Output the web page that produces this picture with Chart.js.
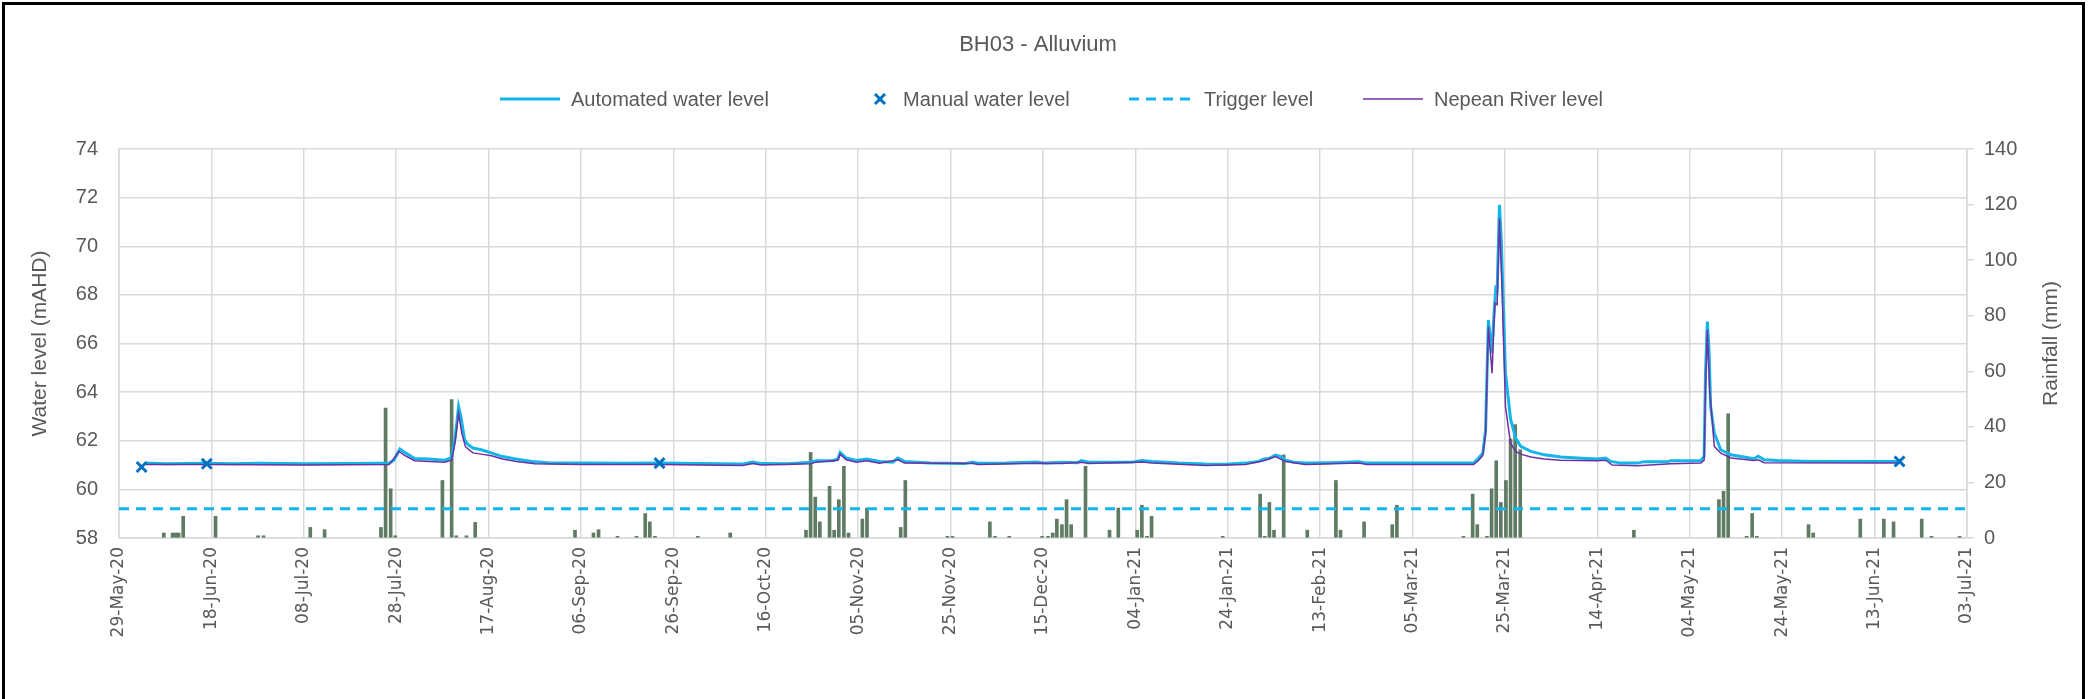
<!DOCTYPE html>
<html>
<head>
<meta charset="utf-8">
<title>BH03 - Alluvium</title>
<script src="https://cdn.jsdelivr.net/npm/chart.js@4.4.0/dist/chart.umd.min.js"></script>
<style>
  html, body { margin: 0; padding: 0; background: #fff; }
  #wrap { position: relative; width: 2089px; height: 699px; }
  #frame { position: absolute; left: 2px; top: 2px; width: 2083px; height: 697px; border: 3px solid #000; border-bottom: none; box-sizing: border-box; pointer-events: none; }
  canvas { position: absolute; left: 0; top: 0; }
</style>
</head>
<body>
<div id="wrap">
  <canvas id="myChart" width="2089" height="699"></canvas>
  <div id="frame"></div>
</div>
<script>
// x values are days since 29-May-20
const autoDays = [5.8, 10, 15, 18, 25, 30, 40, 50, 56, 58.5, 59.5, 60.8, 62, 64, 67, 70.5, 72, 72.8, 73.5, 74.0, 74.8, 75.5, 76.6, 78.4, 80.6, 82.8, 85.6, 89.3, 92.9, 100.8,
  110, 117, 125, 135, 137.2, 139, 145, 149.5, 151, 154.5, 155.6, 156.1, 157.4, 159.6, 161.8, 164.6, 167.5, 168.6, 170, 175.5, 183, 184.8, 186, 192, 198.6,
  200.5, 204.1, 207.5, 208.3, 209.9, 219.3, 221.4, 223.6, 229.4, 235.2, 239.5, 243.8, 246.7, 247.8, 248.9, 250.3, 251.4, 252.5, 254.3, 256.8, 262, 268.3, 270.1,
  279.9, 293.2, 294.3, 295.2, 295.8, 296.4, 297.1, 297.5, 298, 298.3, 298.8, 299.2, 300.1, 301.2, 302.3, 303.4, 305.6, 308.5, 312.1, 315.7, 320, 321.8, 322.9,
  325.1, 328.7, 330.1, 335.2, 335.9, 342.4, 343.1, 343.4, 343.8, 344.2, 344.5, 345.3, 346.7, 348.9, 351.7, 353.9, 354.8, 356.1, 359, 366.2, 373.4, 384.9];
const autoLevel = [61.08, 61.05, 61.06, 61.07, 61.05, 61.07, 61.05, 61.06, 61.07, 61.08, 61.2, 61.66, 61.5, 61.27, 61.25, 61.2, 61.3, 62.2, 63.41, 63.0, 62.04, 61.85, 61.7, 61.63, 61.5, 61.36, 61.26, 61.15, 61.1, 61.08,
  61.07, 61.08, 61.06, 61.04, 61.12, 61.06, 61.05, 61.12, 61.18, 61.18, 61.25, 61.52, 61.29, 61.19, 61.25, 61.15, 61.12, 61.29, 61.15, 61.08, 61.06, 61.12, 61.07, 61.08, 61.13,
  61.08, 61.12, 61.1, 61.18, 61.12, 61.12, 61.19, 61.15, 61.08, 61.04, 61.03, 61.08, 61.15, 61.25, 61.27, 61.41, 61.36, 61.2, 61.12, 61.08, 61.1, 61.14, 61.08,
  61.08, 61.08, 61.29, 61.49, 62.45, 66.97, 65.6, 66.84, 68.27, 68.2, 71.7, 70.26, 64.78, 62.9, 62.11, 61.77, 61.56, 61.42, 61.33, 61.29, 61.25, 61.29, 61.15,
  61.08, 61.08, 61.14, 61.14, 61.18, 61.18, 61.36, 64.78, 66.9, 65.6, 63.41, 62.32, 61.63, 61.42, 61.33, 61.26, 61.36, 61.22, 61.19, 61.15, 61.15, 61.15];

const riverDays = [5.8, 20, 40, 58.5, 60.6, 62, 64, 70.5, 72, 72.8, 73.5, 74.2, 75, 76.6, 78.4, 80.6, 83, 86, 90, 100, 117, 135, 137.2, 139, 149.5, 151, 155.6, 156.1, 157.4,
  159.6, 161.8, 164.6, 168.6, 170, 184.8, 186, 198.6, 204.1, 208.3, 209.9, 221.4, 223.6, 235.2, 243.8, 247.8, 250.3, 252.5, 256.8, 268.3, 270.1,
  293.2, 294.3, 295.2, 295.8, 296.4, 297.2, 297.8, 298.3, 298.8, 299.4, 300.1, 301.2, 302.3, 303.4, 305.6, 308.5, 312, 320, 321.8, 323.2, 328.7, 335.9,
  342.4, 343.1, 343.4, 343.8, 344.3, 345.3, 346.7, 348.9, 353.9, 354.8, 356.1, 384.9];
const riverLevel = [61.02, 61.02, 61.0, 61.02, 61.56, 61.38, 61.18, 61.12, 61.2, 62.0, 63.14, 62.3, 61.75, 61.5, 61.45, 61.38, 61.25, 61.15, 61.05, 61.02, 61.02, 60.98, 61.06, 61.0, 61.05, 61.12, 61.2, 61.45, 61.22,
  61.12, 61.18, 61.08, 61.22, 61.08, 61.06, 61.02, 61.07, 61.06, 61.12, 61.06, 61.13, 61.08, 60.98, 61.02, 61.18, 61.35, 61.15, 61.02, 61.08, 61.02,
  61.02, 61.2, 61.4, 62.3, 66.7, 64.78, 67.66, 67.6, 71.15, 68.0, 63.4, 61.9, 61.56, 61.45, 61.33, 61.25, 61.2, 61.18, 61.2, 61.0, 60.97, 61.05,
  61.08, 61.2, 64.1, 66.56, 64.1, 61.77, 61.49, 61.29, 61.19, 61.22, 61.1, 61.08];

const manualDays = [4.9, 19, 117, 385.4];
const manualLevel = [60.92, 61.05, 61.08, 61.15];

const triggerDays = [0, 400];
const triggerLevel = [59.2, 59.2];

const rainDays = [9.7, 11.6, 12.3, 12.9, 13.9, 20.9, 30.1, 31.3, 41.4, 44.5, 56.7, 57.7, 58.8, 59.8, 70.0, 72.0, 73.0, 75.2, 77.1, 98.7,
  102.7, 103.8, 107.9, 112.0, 113.9, 114.9, 116.0, 125.3, 132.3, 148.7, 149.7, 150.7, 151.7, 153.8, 154.8, 155.8, 156.9, 157.9, 160.9, 161.9,
  169.2, 170.2, 179.3, 180.4, 188.5, 189.6, 192.7, 199.8, 201.1, 202.1, 203.0, 204.1, 205.1, 206.1, 209.2, 214.4, 216.3, 220.4, 221.4, 222.5, 223.5,
  238.9, 247.0, 248.0, 249.0, 250.0, 252.1, 257.2, 263.4, 264.4, 269.5, 275.6, 276.6, 291.0, 293.0, 294.0, 296.1, 297.1, 298.1, 299.1, 300.2,
  301.2, 302.2, 303.3, 327.9, 346.3, 347.3, 348.3, 352.3, 353.5, 354.5, 365.7, 366.7, 376.9, 382.0, 384.1, 390.2, 392.3, 398.4];
const rainMm = [1.8, 1.8, 1.8, 1.8, 7.8, 7.8, 0.8, 0.8, 3.8, 3.0, 3.8, 46.8, 17.7, 0.8, 20.7, 49.8, 0.8, 0.8, 5.6, 2.8,
  1.8, 3.0, 0.6, 0.6, 8.8, 5.8, 0.6, 0.6, 1.8, 2.8, 30.8, 14.7, 5.8, 18.6, 2.8, 13.8, 25.8, 1.8, 6.8, 10.8,
  3.8, 20.7, 0.6, 0.6, 5.8, 0.6, 0.6, 0.6, 0.6, 1.8, 6.8, 4.8, 13.8, 4.8, 25.8, 2.8, 10.8, 2.8, 11.8, 0.6, 7.8,
  0.6, 15.8, 0.6, 12.8, 2.8, 29.9, 2.8, 20.7, 2.8, 5.8, 4.8, 11.8, 0.6, 15.8, 4.8, 0.6, 17.7, 27.8, 12.8, 20.7,
  35.6, 40.8, 31.8, 2.8, 13.8, 16.8, 44.7, 0.6, 8.8, 0.6, 4.8, 1.8, 6.8, 6.8, 5.8, 6.8, 0.6, 0.6];

const monthNames = ['Jan', 'Feb', 'Mar', 'Apr', 'May', 'Jun', 'Jul', 'Aug', 'Sep', 'Oct', 'Nov', 'Dec'];

const toPoints = (xs, ys) => xs.map((x, i) => ({ x: x, y: ys[i] }));

const dayLabel = (d) => {
    const dt = new Date(2020, 4, 29 + Math.round(d));
    const dd = String(dt.getDate()).padStart(2, '0');
    return dd + '-' + monthNames[dt.getMonth()] + '-' + String(dt.getFullYear()).slice(2);
};

const textColor = '#595959';
const gridColor = '#d9d9d9';
const labelFont = '"Liberation Sans", Arial, sans-serif';

// title, axis titles and legend are drawn here so they sit where the original has them
const chartText = {
    id: 'chartText',
    afterDraw(chart) {
        const ctx = chart.ctx;
        const area = chart.chartArea;
        const midY = (area.top + area.bottom) / 2;
        ctx.save();
        ctx.fillStyle = textColor;
        ctx.textBaseline = 'middle';
        ctx.textAlign = 'center';
        ctx.font = '22px ' + labelFont;
        ctx.fillText('BH03 - Alluvium', 1038, 45);

        // axis titles, both read bottom to top
        ctx.font = '21px ' + labelFont;
        ctx.save();
        ctx.translate(40, midY);
        ctx.rotate(-Math.PI / 2);
        ctx.fillText('Water level (mAHD)', 0, 0);
        ctx.restore();
        ctx.save();
        ctx.translate(2051, midY);
        ctx.rotate(-Math.PI / 2);
        ctx.fillText('Rainfall (mm)', 0, 0);
        ctx.restore();

        // legend
        const y = 99;
        ctx.font = '20px ' + labelFont;
        ctx.textAlign = 'left';
        const items = [
            { ds: 0, x: 500, w: 60 },
            { ds: 1, x: 868, w: 24 },
            { ds: 2, x: 1129, w: 64 },
            { ds: 3, x: 1363, w: 60 },
        ];
        items.forEach(it => {
            const ds = chart.data.datasets[it.ds];
            ctx.save();
            ctx.strokeStyle = ds.borderColor;
            ctx.lineWidth = ds.borderWidth;
            if (ds.showLine === false) {
                const cx = it.x + it.w / 2, r = 5;
                ctx.beginPath();
                ctx.moveTo(cx - r, y - r); ctx.lineTo(cx + r, y + r);
                ctx.moveTo(cx - r, y + r); ctx.lineTo(cx + r, y - r);
                ctx.stroke();
            } else {
                ctx.setLineDash(ds.borderDash || []);
                ctx.beginPath();
                ctx.moveTo(it.x, y); ctx.lineTo(it.x + it.w, y);
                ctx.stroke();
            }
            ctx.restore();
            ctx.fillText(ds.label, it.x + it.w + 11, y + 1);
        });
        ctx.restore();
    }
};

const ctx = document.getElementById('myChart').getContext('2d');
const chart = new Chart(ctx, {
    type: 'bar',
    data: {
        datasets: [
            {
                type: 'line',
                label: 'Automated water level',
                data: toPoints(autoDays, autoLevel),
                borderColor: '#13b5ea',
                borderWidth: 3,
                pointRadius: 0,
                tension: 0,
                yAxisID: 'y',
                order: 2,
            },
            {
                type: 'line',
                label: 'Manual water level',
                data: toPoints(manualDays, manualLevel),
                showLine: false,
                borderColor: '#0070c0',
                backgroundColor: '#0070c0',
                borderWidth: 3,
                pointStyle: 'crossRot',
                pointRadius: 7,
                yAxisID: 'y',
                order: 0,
            },
            {
                type: 'line',
                label: 'Trigger level',
                data: toPoints(triggerDays, triggerLevel),
                borderColor: '#13b5ea',
                borderWidth: 3,
                borderDash: [10, 7],
                pointRadius: 0,
                yAxisID: 'y',
                order: 3,
            },
            {
                type: 'line',
                label: 'Nepean River level',
                data: toPoints(riverDays, riverLevel),
                borderColor: '#7030a0',
                borderWidth: 1.5,
                pointRadius: 0,
                tension: 0,
                yAxisID: 'y',
                order: 1,
            },
            {
                type: 'bar',
                label: 'Rainfall',
                data: toPoints(rainDays, rainMm),
                backgroundColor: '#5f7b64',
                barThickness: 3,
                yAxisID: 'yR',
                order: 5,
            },
        ],
    },
    options: {
        responsive: false,
        animation: false,
        layout: { padding: { top: 149, left: 0, right: 0, bottom: 0 } },
        plugins: {
            legend: { display: false },
            title: { display: false },
            tooltip: { enabled: false },
        },
        scales: {
            x: {
                type: 'linear',
                min: 0,
                max: 400,
                offset: false,
                grid: { color: gridColor, lineWidth: 1.5, drawTicks: false, offset: false },
                border: { color: gridColor, width: 1.5 },
                ticks: {
                    stepSize: 20,
                    autoSkip: false,
                    minRotation: 90,
                    maxRotation: 90,
                    padding: 9,
                    color: textColor,
                    font: { family: '"DejaVu Sans"', size: 17 },
                    callback: (v) => dayLabel(v),
                },
                afterFit: (scale) => { scale.height = 161; },
            },
            y: {
                position: 'left',
                min: 58,
                max: 74,
                grid: { color: gridColor, lineWidth: 1.5, drawTicks: false },
                border: { color: gridColor, width: 1.5 },
                ticks: { stepSize: 2, padding: 21, color: textColor, font: { family: labelFont, size: 20 } },
                afterFit: (scale) => { scale.width = 119; },
            },
            yR: {
                position: 'right',
                min: 0,
                max: 140,
                grid: { drawOnChartArea: false, color: gridColor, lineWidth: 1.5, tickLength: 7 },
                border: { color: gridColor, width: 1.5 },
                ticks: { stepSize: 20, padding: 10, color: textColor, font: { family: labelFont, size: 20 } },
                afterFit: (scale) => { scale.width = 122; },
            },
        },
    },
    plugins: [chartText],
});
</script>
</body>
</html>
